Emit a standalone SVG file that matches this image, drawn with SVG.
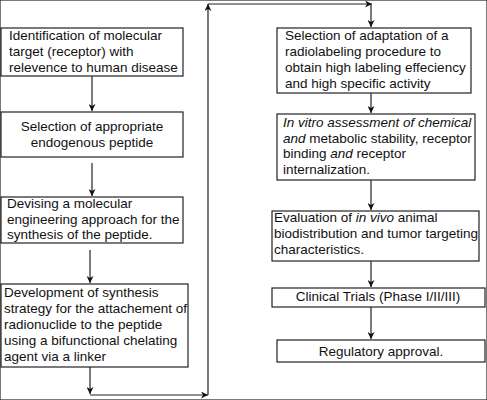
<svg xmlns="http://www.w3.org/2000/svg" width="487" height="400" viewBox="0 0 487 400">
<defs>
<marker id="ah" viewBox="0 0 10 10" refX="10" refY="5" markerWidth="7" markerHeight="7" markerUnits="userSpaceOnUse" orient="auto">
<path d="M0,0 L10,5 L0,10 L3,5 Z" fill="#111"/>
</marker>
<style>
rect{fill:#fff;stroke:#222;stroke-width:1.2}
text{font-family:"Liberation Sans",Arial,sans-serif;font-size:13.5px;fill:#111}
.c{text-anchor:middle}
.e{stroke:#222;stroke-width:1.2;fill:none}
</style>
</defs>
<rect width="487" height="400" fill="#fff" stroke="none"/>
<g id="connectors">
<path class="e" d="M92,76 V111" marker-end="url(#ah)"/>
<path class="e" d="M92,163 V196" marker-end="url(#ah)"/>
<path class="e" d="M90,250 V283" marker-end="url(#ah)"/>
<path class="e" d="M90,367 V394" marker-end="url(#ah)"/>
<path class="e" d="M90,395 H208" marker-end="url(#ah)"/>
<path class="e" d="M208,395 V4" marker-end="url(#ah)"/>
<path class="e" d="M208,4 H372" marker-end="url(#ah)"/>
<path class="e" d="M371,4 V27" marker-end="url(#ah)"/>
<path class="e" d="M371,93 V113" marker-end="url(#ah)"/>
<path class="e" d="M371,180 V210" marker-end="url(#ah)"/>
<path class="e" d="M371,261 V287" marker-end="url(#ah)"/>
<path class="e" d="M371,307 V339" marker-end="url(#ah)"/>
</g>
<g id="n1"><rect x="1" y="28" width="182" height="48"/>
<text x="9" y="40">Identification of molecular</text>
<text x="9" y="56">target (receptor) with</text>
<text x="9" y="72">relevence to human disease</text></g>
<g id="n2"><rect x="1" y="112" width="182" height="45"/>
<text class="c" x="92" y="131">Selection of appropriate</text>
<text class="c" x="92" y="147">endogenous peptide</text></g>
<g id="n3"><rect x="1" y="197" width="182" height="46"/>
<text x="7" y="208">Devising a molecular</text>
<text x="7" y="224">engineering approach for the</text>
<text x="7" y="239">synthesis of the peptide.</text></g>
<g id="n4"><rect x="1" y="284" width="187" height="83"/>
<text x="4" y="297">Development of synthesis</text>
<text x="4" y="313">strategy for the attachement of</text>
<text x="4" y="329">radionuclide to the peptide</text>
<text x="4" y="345">using a bifunctional chelating</text>
<text x="4" y="361">agent via a linker</text></g>
<g id="n5"><rect x="277" y="28" width="194" height="65"/>
<text x="285" y="40">Selection of adaptation of a</text>
<text x="285" y="56">radiolabeling procedure to</text>
<text x="285" y="72">obtain high labeling effeciency</text>
<text x="285" y="88">and high specific activity</text></g>
<g id="n6"><rect x="277" y="114" width="198" height="66"/>
<text x="283" y="127"><tspan font-style="italic">In vitro assessment of chemical</tspan></text>
<text x="283" y="143"><tspan font-style="italic">and</tspan> metabolic stability, receptor</text>
<text x="283" y="158">binding <tspan font-style="italic">and</tspan> receptor</text>
<text x="283" y="174">internalization.</text></g>
<g id="n7"><rect x="272" y="211" width="207" height="50"/>
<text x="274" y="222">Evaluation of <tspan font-style="italic">in vivo</tspan> animal</text>
<text x="274" y="238">biodistribution and tumor targeting</text>
<text x="274" y="254">characteristics.</text></g>
<g id="n8"><rect x="272" y="288" width="213" height="19"/>
<text class="c" x="378" y="301">Clinical Trials (Phase I/II/III)</text></g>
<g id="n9"><rect x="277" y="340" width="208" height="22"/>
<text class="c" x="381" y="356">Regulatory approval.</text></g>
</svg>
